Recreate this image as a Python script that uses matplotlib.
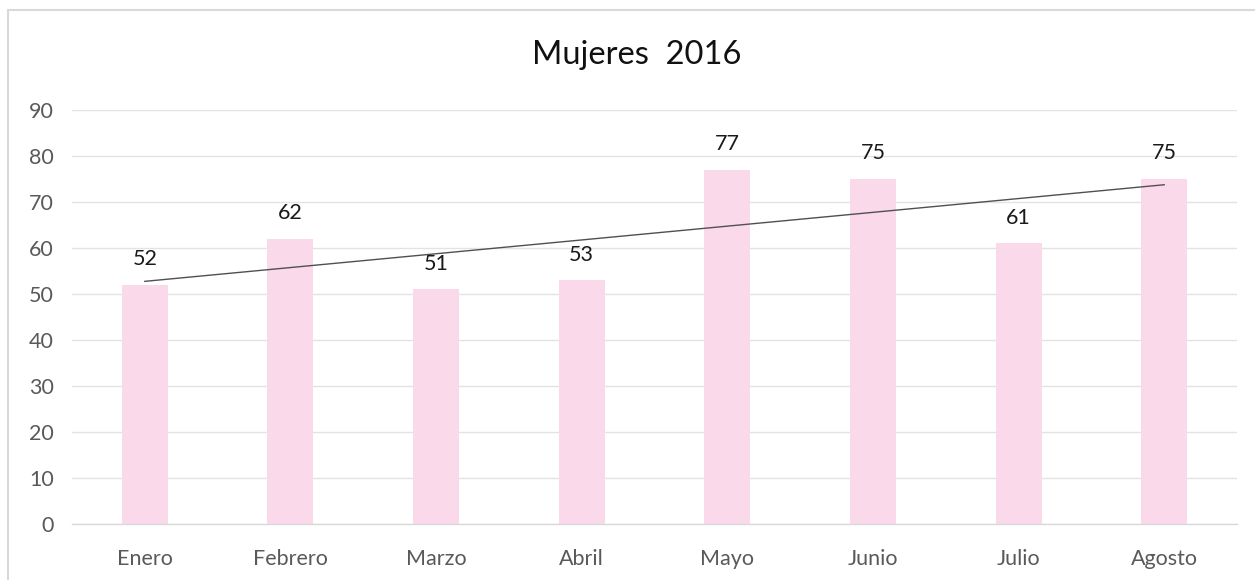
import numpy as np
import matplotlib
matplotlib.use("Agg")
import matplotlib.pyplot as plt
from matplotlib.patches import Rectangle

months = ["Enero", "Febrero", "Marzo", "Abril", "Mayo", "Junio", "Julio", "Agosto"]
values = [52, 62, 51, 53, 77, 75, 61, 75]
yticks = [0, 10, 20, 30, 40, 50, 60, 70, 80, 90]
title = "Mujeres  2016"

plt.rcParams['font.family'] = ['Lato', 'DejaVu Sans']

W, H = 1255, 580
fig = plt.figure(figsize=(W / 100, H / 100), dpi=100)
ax = fig.add_axes([72 / W, 56 / H, (1237 - 72) / W, (524 - 110) / H])

x = np.arange(len(months))
ax.bar(x, values, width=0.316, color="#FADAEA", zorder=2)

# linear trendline
coef = np.polyfit(x, values, 1)
ax.plot([x[0], x[-1]], np.polyval(coef, [x[0], x[-1]]), color="#505050", lw=1.0, zorder=3)

for xi, v in zip(x, values):
    ax.annotate(str(v), (xi, v), xytext=(0, 18.5), textcoords="offset points",
                ha="center", va="center", fontsize=15.5, color="#1a1a1a")

ax.set_xlim(-0.5, len(months) - 0.5)
ax.set_ylim(0, 90)
ax.set_yticks(yticks)
ax.set_xticks(x)
ax.set_xticklabels(months)
ax.grid(axis="y", color="#E3E3E3", lw=1.0, zorder=0)
ax.set_axisbelow(True)
for s in ["top", "right", "left"]:
    ax.spines[s].set_visible(False)
ax.spines["bottom"].set_color("#D9D9D9")
ax.spines["bottom"].set_linewidth(1.0)
ax.tick_params(axis="both", length=0, labelsize=15.5, labelcolor="#595959")
ax.tick_params(axis="x", pad=18)
ax.tick_params(axis="y", pad=13)

fig.text(637 / W, 1 - 55 / H, title, ha="center", va="center", fontsize=23.5, color="#111111")

# chart border
fig.patches.append(Rectangle((8 / W, -0.05), 1.2, 1 - 10 / H + 0.05, transform=fig.transFigure,
                             fill=False, edgecolor="#D9D9D9", lw=1.5))

fig.savefig("out.png", dpi=100)
